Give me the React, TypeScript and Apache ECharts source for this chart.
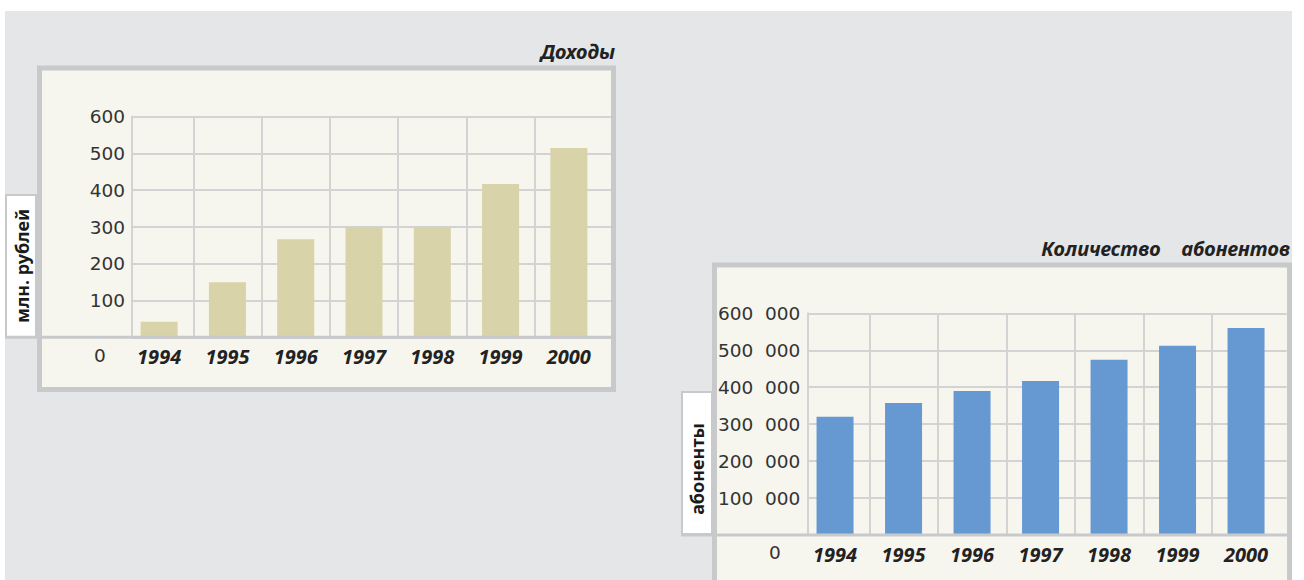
import React, { useEffect, useRef } from "react";
import * as echarts from "echarts";

const years = ["1994", "1995", "1996", "1997", "1998", "1999", "2000"];
const incomeValues = [42, 150, 267, 300, 300, 417, 515];
const subscriberValues = [320000, 357000, 390000, 417000, 474000, 512000, 560000];
const incomeAxis = { min: 0, max: 600, interval: 100 };
const subscriberAxis = { min: 0, max: 600000, interval: 100000 };
const incomeTitle = "Доходы";
const subscriberTitle = "Количество    абонентов";
const incomeAxisName = "млн. рублей";
const subscriberAxisName = "абоненты";
const zeroLabel = "0";

const FONT = '"Noto Sans", "Open Sans", sans-serif';
const TICK_FONT = '"DejaVu Sans", "Noto Sans", sans-serif';
const GRID_COLOR = "#d3d3d3";
const FRAME_COLOR = "#c8c9cb";
const PANEL_FILL = "#f6f6ee";
const PAGE_GREY = "#e5e6e8";
const TEXT = "#333333";

const fmtIncome = (v: number) => (v === 0 ? "" : String(v));
const fmtSubs = (v: number) => (v === 0 ? "" : `${v / 1000}  000`);

export default function App() {
  const ref = useRef<HTMLDivElement>(null);
  useEffect(() => {
    if (!ref.current) return;
    const chart = echarts.init(ref.current, undefined, { renderer: "svg" });

    const L = { top: 116.7, h: 220.6, barL: 125, barW: 478, frameL: 132, frameW: 479 };
    const R = { top: 313.3, h: 221.7, barL: 800.8, barW: 479.5, frameL: 807.3, frameW: 479.4 };

    const barGrid = (g: any) => ({ left: g.barL, width: g.barW, top: g.top, height: g.h, outerBoundsMode: "none" });
    const frameGrid = (g: any) => ({ left: g.frameL, width: g.frameW, top: g.top, height: g.h, outerBoundsMode: "none" });

    const catAxis = (gridIndex: number) => ({
      type: "category",
      gridIndex,
      data: years,
      boundaryGap: true,
      axisLine: { show: false },
      axisTick: { show: false },
      axisLabel: {
        interval: 0,
        margin: 9,
        color: "#222",
        fontFamily: FONT,
        fontSize: 20,
        fontWeight: "bold",
        fontStyle: "italic",
      },
      splitLine: { show: true, showMinLine: false, showMaxLine: false, lineStyle: { color: GRID_COLOR, width: 2 } },
    });
    const hiddenX = (gridIndex: number) => ({ type: "value", gridIndex, min: 0, max: 1, show: false });
    const hiddenY = (gridIndex: number, ax: any) => ({
      type: "value",
      gridIndex,
      min: ax.min,
      max: ax.max,
      interval: ax.interval,
      show: false,
    });
    const frameY = (gridIndex: number, ax: any, fmt: (v: number) => string) => ({
      type: "value",
      gridIndex,
      min: ax.min,
      max: ax.max,
      interval: ax.interval,
      axisLine: { show: true, lineStyle: { color: GRID_COLOR, width: 2 } },
      axisTick: { show: false },
      axisLabel: { margin: 7, color: TEXT, fontFamily: TICK_FONT, fontSize: 18.5, formatter: fmt },
      splitLine: { show: true, lineStyle: { color: GRID_COLOR, width: 2 } },
    });

    const rotatedName = (cx: number, cy: number, text: string) => ({
      type: "text",
      z: 20,
      x: cx,
      y: cy,
      rotation: Math.PI / 2,
      style: {
        text,
        fill: "#1a1a1a",
        font: `bold 18px ${FONT}`,
        align: "center",
        verticalAlign: "middle",
        textAlign: "center",
        textVerticalAlign: "middle",
      },
    });
    const title = (right: number, cy: number, text: string) => ({
      type: "text",
      z: 20,
      x: right,
      y: cy,
      style: {
        text,
        fill: "#222",
        font: `italic bold 20px ${FONT}`,
        align: "right",
        verticalAlign: "middle",
        textAlign: "right",
        textVerticalAlign: "middle",
      },
    });
    const zeroText = (cx: number, cy: number) => ({
      type: "text",
      z: 20,
      x: cx,
      y: cy,
      style: {
        text: zeroLabel,
        fill: TEXT,
        font: `18.5px ${TICK_FONT}`,
        align: "center",
        verticalAlign: "middle",
        textAlign: "center",
        textVerticalAlign: "middle",
      },
    });

    chart.setOption({
      animation: false,
      backgroundColor: "#ffffff",
      grid: [barGrid(L), frameGrid(L), barGrid(R), frameGrid(R)],
      xAxis: [catAxis(0), hiddenX(1), catAxis(2), hiddenX(3)],
      yAxis: [
        hiddenY(0, incomeAxis),
        frameY(1, incomeAxis, fmtIncome),
        hiddenY(2, subscriberAxis),
        frameY(3, subscriberAxis, fmtSubs),
      ],
      series: [
        {
          type: "bar",
          xAxisIndex: 0,
          yAxisIndex: 0,
          data: incomeValues,
          barWidth: 37,
          itemStyle: { color: "#d8d3a9" },
          z: 5,
        },
        {
          type: "bar",
          xAxisIndex: 2,
          yAxisIndex: 2,
          data: subscriberValues,
          barWidth: 37,
          itemStyle: { color: "#6699d1" },
          z: 5,
        },
      ],
      graphic: [
        { type: "rect", z: -10, shape: { x: 5, y: 11, width: 1287, height: 580 }, style: { fill: PAGE_GREY } },
        {
          type: "rect",
          z: -9,
          shape: { x: 39.5, y: 68, width: 574, height: 321.5 },
          style: { fill: PANEL_FILL, stroke: FRAME_COLOR, lineWidth: 5 },
        },
        {
          type: "rect",
          z: -9,
          shape: { x: 714.5, y: 265, width: 575, height: 400 },
          style: { fill: PANEL_FILL, stroke: FRAME_COLOR, lineWidth: 5 },
        },
        { type: "line", z: 15, shape: { x1: 5, y1: 337.3, x2: 611, y2: 337.3 }, style: { stroke: FRAME_COLOR, lineWidth: 3 } },
        { type: "line", z: 15, shape: { x1: 681, y1: 535, x2: 1287, y2: 535 }, style: { stroke: FRAME_COLOR, lineWidth: 3 } },
        {
          type: "rect",
          z: 14,
          shape: { x: 6, y: 195, width: 30, height: 142 },
          style: { fill: "#ffffff", stroke: FRAME_COLOR, lineWidth: 2 },
        },
        {
          type: "rect",
          z: 14,
          shape: { x: 682, y: 392, width: 30, height: 142 },
          style: { fill: "#ffffff", stroke: FRAME_COLOR, lineWidth: 2 },
        },
        rotatedName(21.5, 266, incomeAxisName),
        rotatedName(697, 469, subscriberAxisName),
        title(615, 51, incomeTitle),
        title(1290, 248, subscriberTitle),
        zeroText(100, 355),
        zeroText(775, 552),
      ],
    });
    return () => chart.dispose();
  }, []);
  return <div ref={ref} style={{ position: "absolute", left: 0, top: 0, width: 1304, height: 580 }} />;
}
